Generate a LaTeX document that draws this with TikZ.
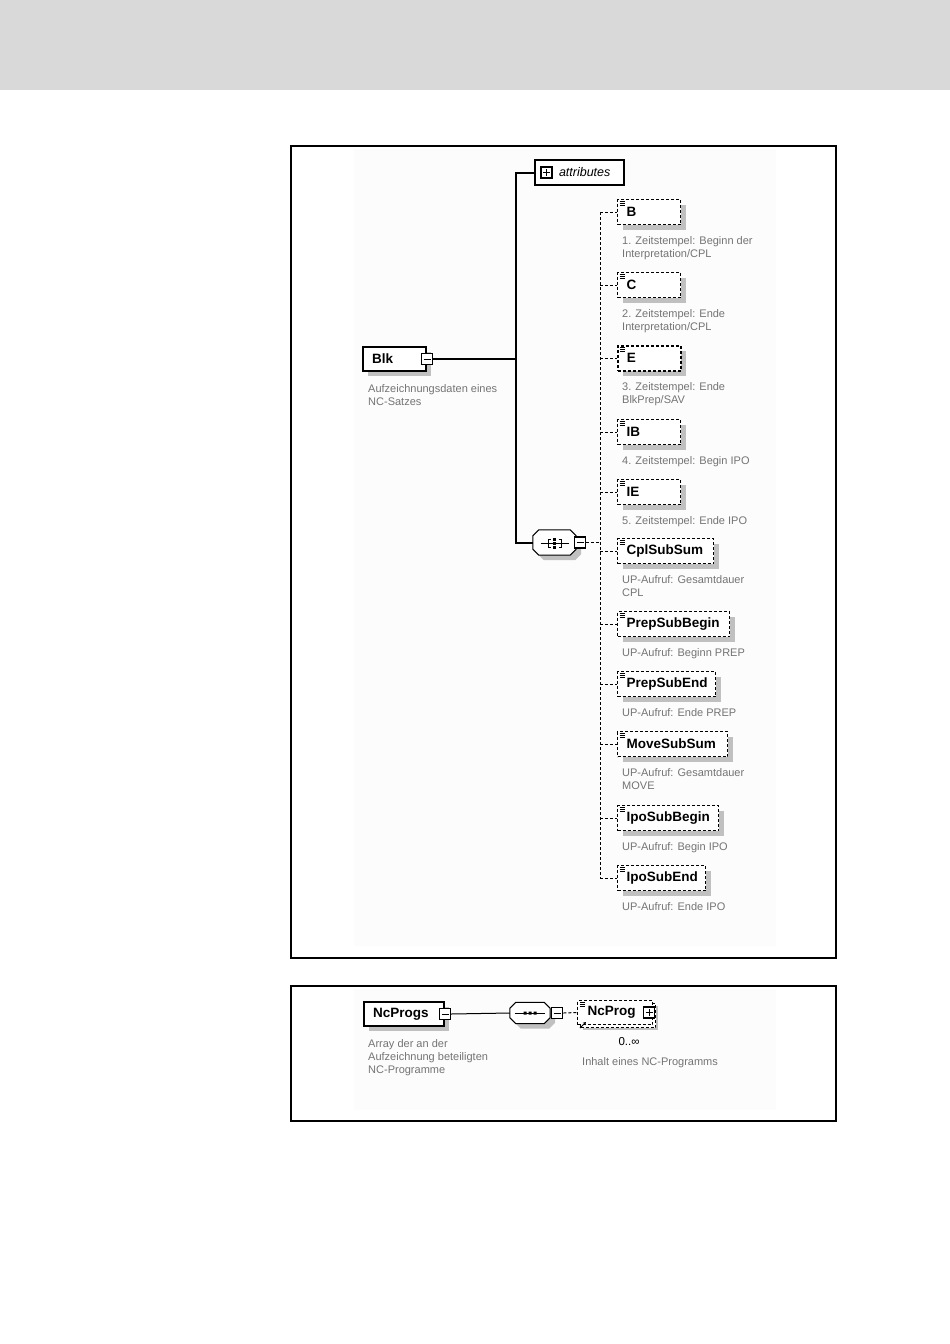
\documentclass[tikz,border=0pt]{standalone}
\usepackage{fontspec}
\setmainfont{Liberation Sans}
\usetikzlibrary{arrows.meta,positioning,calc,shadows}
\definecolor{xsdGrey}{HTML}{747474}
\definecolor{xsdShadow}{HTML}{C0C0C0}
\definecolor{xsdBand}{HTML}{D9D9D9}
\definecolor{xsdPanel}{HTML}{FCFCFC}

\tikzset{
  panel/.style={draw=black,line width=2pt},
  boxbase/.style={draw,fill=white,line width=1pt,dash pattern=on 3pt off 2pt,
    anchor=north west,minimum height=25pt,text width=#1,inner xsep=9pt,inner ysep=0pt,
    align=left,font=\fontsize{13.5}{14}\selectfont\bfseries,
    drop shadow={shadow xshift=5pt,shadow yshift=-5pt,opacity=1,fill=xsdShadow,draw=none}},
  elem/.style={boxbase=#1,
    path picture={\draw[solid,line width=0.7pt]
      ([shift={(2pt,-2pt)}]path picture bounding box.north west) -- ++(5pt,0pt)
      ([shift={(2pt,-4pt)}]path picture bounding box.north west) -- ++(5pt,0pt)
      ([shift={(2pt,-6pt)}]path picture bounding box.north west) -- ++(5pt,0pt);}},
  topelem/.style={boxbase=#1,solid,line width=2pt,minimum height=24pt},
  refelem/.style={elem=#1,minimum height=24pt,inner xsep=10pt,
    general shadow={shadow xshift=3pt,shadow yshift=-3pt,fill=white,draw=black,
      line width=1pt,dash pattern=on 3pt off 2pt}},
  attrbox/.style={draw,line width=2pt,fill=white,anchor=north west,minimum height=25pt,
    inner xsep=4pt,inner ysep=0pt,text width=81pt,align=left,
    font=\fontsize{12.5}{14}\selectfont\itshape},
  desc/.style={anchor=north west,inner sep=0pt,align=left,text=xsdGrey,
    font=\fontsize{11}{13}\selectfont},
  occ/.style={inner sep=0pt,font=\fontsize{11.5}{13}\selectfont},
  compbox/.style={inner sep=0pt},
  minusbox/.style={draw,fill=white,solid,line width=1.2pt,minimum size=11pt,inner sep=0pt,
    path picture={\draw[line width=1pt]
      ([xshift=2pt]path picture bounding box.west) -- ([xshift=-2pt]path picture bounding box.east);}},
  plusbox/.style={draw,fill=white,solid,line width=1.2pt,minimum size=11pt,inner sep=0pt,
    path picture={\draw[line width=1pt]
      ([xshift=2pt]path picture bounding box.west) -- ([xshift=-2pt]path picture bounding box.east)
      ([yshift=2pt]path picture bounding box.south) -- ([yshift=-2pt]path picture bounding box.north);}},
  link/.style={line width=2pt},
  thinlink/.style={line width=1pt},
  optlink/.style={line width=1pt,dash pattern=on 3pt off 2pt}
}

% octagon outline of a compositor node
\newcommand{\octagonfor}[2]{%
  \path[#2] ([xshift=6pt]#1.north west) -- ([xshift=-6pt]#1.north east)
    -- ([yshift=-6pt]#1.north east) -- ([yshift=6pt]#1.south east)
    -- ([xshift=-6pt]#1.south east) -- ([xshift=6pt]#1.south west)
    -- ([yshift=6pt]#1.south west) -- ([yshift=-6pt]#1.north west) -- cycle;}

\begin{document}
\begin{tikzpicture}[x=1pt,y=-1pt]
  \useasboundingbox (0,0) rectangle (950,1344);
  \fill[xsdBand] (0,0) rectangle (950,90);
  \fill[xsdPanel] (354,149) rectangle (776,946);
  \fill[xsdPanel] (354,989) rectangle (776,1110);
  \draw[panel] (291,146) rectangle (836,958);
  \draw[panel] (291,986) rectangle (836,1121);

  % Blk
  \node[topelem=45] (blk) at (362,346) {Blk};
  \node[minusbox] (blkminus) at (blk.east) {};
  \node[desc] (blkd) at ([shift={(6,12)}]blk.south west) {Aufzeichnungsdaten eines\\NC-Satzes};
  \node[attrbox] (attr) at (534,159) {\hspace*{20pt}attributes};
  \node[plusbox] (attrplus) at ([xshift=12.5pt]attr.west) {};

  \node[compbox,minimum width=43pt,minimum height=25pt] (seq) at (554.5,542.5) {};
  \octagonfor{seq}{fill=xsdShadow,transform canvas={shift={(5pt,-5pt)}}}
  \octagonfor{seq}{draw,fill=white,line width=1pt}
  \begin{scope}[shift={(seq.center)},line width=1pt]
    \draw (-14,1) -- (14,1);
    \draw (-4,-3) -- (-6.5,-3) -- (-6.5,5) -- (-4,5);
    \draw (4,-3) -- (6.5,-3) -- (6.5,5) -- (4,5);
    \fill (-1.3,-4.3) rectangle ++(2.6,2.6) (-1.3,-0.3) rectangle ++(2.6,2.6)
          (-1.3,3.7) rectangle ++(2.6,2.6);
  \end{scope}
  \node[minusbox,right=-2pt of seq] (seqminus) {};

  \node[elem=45] (tsb) at (617,199) {B};
  \node[desc] (tsbd) at ([shift={(5,11)}]tsb.south west) {1. Zeitstempel: Beginn der\\Interpretation/CPL};
  \node[elem=45] (tsc) at (617,272) {C};
  \node[desc] (tscd) at ([shift={(5,11)}]tsc.south west) {2. Zeitstempel: Ende\\Interpretation/CPL};
  \node[elem=45,line width=1.6pt] (tse) at (617,345) {E};
  \node[desc] (tsed) at ([shift={(5,11)}]tse.south west) {3. Zeitstempel: Ende\\BlkPrep/SAV};
  \node[elem=45] (tsib) at (617,419) {IB};
  \node[desc] (tsibd) at ([shift={(5,11)}]tsib.south west) {4. Zeitstempel: Begin IPO};
  \node[elem=45] (tsie) at (617,479) {IE};
  \node[desc] (tsied) at ([shift={(5,11)}]tsie.south west) {5. Zeitstempel: Ende IPO};
  \node[elem=78] (cplsum) at (617,538) {CplSubSum};
  \node[desc] (cplsumd) at ([shift={(5,11)}]cplsum.south west) {UP-Aufruf: Gesamtdauer\\CPL};
  \node[elem=94] (prepbegin) at (617,611) {PrepSubBegin};
  \node[desc] (prepbegind) at ([shift={(5,11)}]prepbegin.south west) {UP-Aufruf: Beginn PREP};
  \node[elem=80] (prepend) at (617,671) {PrepSubEnd};
  \node[desc] (prependd) at ([shift={(5,11)}]prepend.south west) {UP-Aufruf: Ende PREP};
  \node[elem=92] (movesum) at (617,731) {MoveSubSum};
  \node[desc] (movesumd) at ([shift={(5,11)}]movesum.south west) {UP-Aufruf: Gesamtdauer\\MOVE};
  \node[elem=83] (ipobegin) at (617,805) {IpoSubBegin};
  \node[desc] (ipobegind) at ([shift={(5,11)}]ipobegin.south west) {UP-Aufruf: Begin IPO};
  \node[elem=70] (ipoend) at (617,865) {IpoSubEnd};
  \node[desc] (ipoendd) at ([shift={(5,11)}]ipoend.south west) {UP-Aufruf: Ende IPO};

  \coordinate (trunk) at (516,0);
  \coordinate (rail) at (600,0);
  \draw[link] (blkminus.east) -- (blkminus.east -| trunk);
  \draw[link] (attr.west) -| (trunk |- seq.west) -- (seq.west);
  \draw[optlink] (seqminus.east) -- (seqminus.east -| rail);
  \draw[optlink] (rail |- tsb.west) -- (rail |- ipoend.west);
  \draw[optlink] (rail |- tsb.west) -- (tsb.west) (rail |- tsc.west) -- (tsc.west)
    (rail |- tsib.west) -- (tsib.west) (rail |- tsie.west) -- (tsie.west)
    (rail |- cplsum.west) -- (cplsum.west) (rail |- prepbegin.west) -- (prepbegin.west)
    (rail |- prepend.west) -- (prepend.west) (rail |- movesum.west) -- (movesum.west)
    (rail |- ipobegin.west) -- (ipobegin.west) (rail |- ipoend.west) -- (ipoend.west);
  \draw[optlink,line width=1.6pt] (rail |- tse.west) -- (tse.west);

  % NcProgs
  \node[topelem=62] (ncprogs) at (363,1001) {NcProgs};
  \node[minusbox] (ncprogsminus) at (ncprogs.east) {};
  \node[desc] (ncprogsd) at ([shift={(5,12)}]ncprogs.south west) {Array der an der\\Aufzeichnung beteiligten\\NC-Programme};

  \node[compbox,minimum width=40pt,minimum height=21pt] (seqb) at (530,1013) {};
  \octagonfor{seqb}{fill=xsdShadow,transform canvas={shift={(5pt,-5pt)}}}
  \octagonfor{seqb}{draw,fill=white,line width=1pt}
  \begin{scope}[shift={(seqb.center)},line width=1pt]
    \draw (-15,0) -- (15,0);
    \fill (-6.5,-1.5) rectangle ++(3,3) (-1.5,-1.5) rectangle ++(3,3) (3.5,-1.5) rectangle ++(3,3);
  \end{scope}
  \node[minusbox,right=1pt of seqb] (seqbminus) {};

  \node[refelem=55] (ncprog) at (577,1000) {NcProg};
  \node[plusbox] (ncprogplus) at ([xshift=-4pt]ncprog.east) {};
  \draw[-{Stealth[length=3pt,width=3.5pt]},line width=1pt]
    ([shift={(3,3)}]ncprog.south west) -- ++(6,-6);
  \node[occ] (ncprogocc) at ([shift={(14,17)}]ncprog.south) {0..∞};
  \node[desc] (ncprogd) at ([shift={(5,32)}]ncprog.south west) {Inhalt eines NC-Programms};

  \draw[thinlink] (ncprogsminus.east) -- (seqb.west);
  \draw[optlink] (seqbminus.east) -- (ncprog.west);
\end{tikzpicture}
\end{document}
